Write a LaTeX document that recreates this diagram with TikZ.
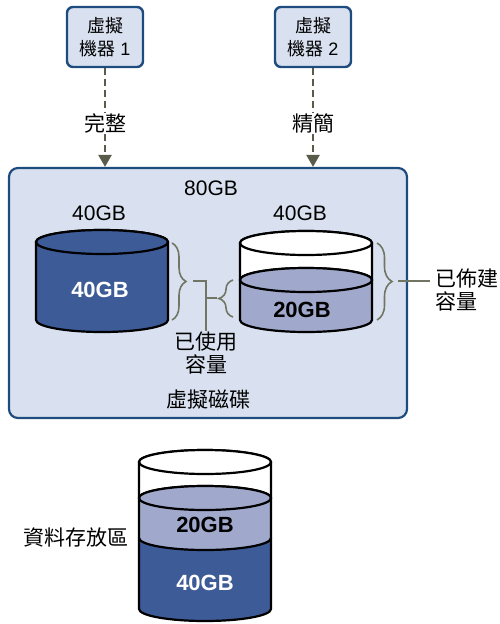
\documentclass[tikz,border=0pt]{standalone}
\usepackage{fontspec}
\setmainfont{Liberation Sans}
\newfontfamily\cjk{Noto Sans CJK TC}
\usetikzlibrary{arrows.meta,positioning,decorations.pathreplacing}
\definecolor{navycolor}{RGB}{31,76,126}
\definecolor{boxcolor}{RGB}{217,225,240}
\definecolor{darkcolor}{RGB}{61,91,151}
\definecolor{lightcolor}{RGB}{160,169,204}
\definecolor{linkcolor}{RGB}{88,92,72}
\tikzset{
  vmbox/.style={draw=navycolor, fill=boxcolor, line width=2.4pt, rounded corners=6pt,
    minimum width=76pt, minimum height=60pt, align=center, font=\fontsize{18}{23}\selectfont},
  diskbox/.style={draw=navycolor, fill=boxcolor, line width=2.2pt, rounded corners=9pt,
    minimum width=398pt, minimum height=250pt},
  flowln/.style={-{Triangle[length=12pt,width=13pt]}, line width=2.4pt,
    dash pattern=on 7pt off 4pt, linkcolor},
  braceln/.style={line width=1.6pt, linkcolor!85},
  cylln/.style={line width=2.2pt, black},
  txt/.style={font=\fontsize{21}{23}\selectfont, inner sep=1pt},
  gbtxt/.style={font=\bfseries\fontsize{22}{24}\selectfont, inner sep=1pt},
}
\newcommand{\zh}[1]{{\cjk #1}}
\newcommand{\cylseg}[4]{% fill, centre x, top y, bottom y
  \filldraw[cylln, fill=#1] (#2-66,#3) -- (#2-66,#4)
    arc[start angle=180, end angle=360, x radius=66, y radius=12]
    -- (#2+66,#3) arc[start angle=0, end angle=180, x radius=66, y radius=12] -- cycle;
}
\newcommand{\cyltop}[3]{% fill, centre x, y
  \filldraw[cylln, fill=#1] (#2,#3) ellipse[x radius=66, y radius=12];
}

\begin{document}
\begin{tikzpicture}[x=1pt, y=1pt]
  \useasboundingbox (0,0) rectangle (499,-624);
  \node[vmbox] (vm1) at (105,-37) {\zh{虛擬}\\\zh{機器} 1};
  \node[vmbox] (vm2) at (313,-37) {\zh{虛擬}\\\zh{機器} 2};
  \node[diskbox] (vdisk) at (208,-293) {};
  \draw[flowln] (vm1) -- (vm1 |- vdisk.north)
    node[txt, text=black, fill=white, pos=0.56] (thicklbl) {\zh{完整}};
  \draw[flowln] (vm2) -- (vm2 |- vdisk.north)
    node[txt, text=black, fill=white, pos=0.56] (thinlbl) {\zh{精簡}};
  \node[txt] (cap) at (211,-188) {80GB};
  \node[txt] (capa) at (99,-213) {40GB};
  \node[txt] (capb) at (300,-213) {40GB};
  % thick disk
  \cylseg{darkcolor}{102}{-242}{-320}
  \cyltop{darkcolor}{102}{-242}
  \node[gbtxt, text=white] (fulla) at (100,-290) {40GB};
  % thin disk
  \cylseg{white}{306}{-243}{-280}
  \cyltop{white}{306}{-243}
  \cylseg{lightcolor}{306}{-280}{-320}
  \cyltop{lightcolor}{306}{-280}
  \node[gbtxt] (usedb) at (302,-310) {20GB};
  % braces
  \draw[braceln, decorate, decoration={brace, amplitude=14pt}] (172,-243) -- (172,-320);
  \draw[braceln, decorate, decoration={brace, amplitude=14pt}] (233,-317) -- (233,-280);
  \draw[braceln, decorate, decoration={brace, amplitude=15pt}] (377,-243) -- (377,-320);
  \coordinate (ltip) at (193,-281);
  \coordinate (mtip) at (217,-298);
  \coordinate (rtip) at (398,-281);
  \node[txt, align=center, anchor=north] (usedlbl) at (206,-331) {\zh{已使用}\\\zh{容量}};
  \node[txt, align=left, anchor=west] (provlbl) at (434,-290) {\zh{已佈建}\\\zh{容量}};
  \draw[braceln] (ltip) -| (usedlbl.north);
  \draw[braceln] (mtip) -- (mtip -| usedlbl.north);
  \draw[braceln] (rtip) -- ([xshift=-4pt]rtip -| provlbl.west);
  \node[txt] (vdlbl) at (208,-400) {\zh{虛擬磁碟}};
  % datastore
  \cylseg{white}{205}{-462}{-498}
  \cyltop{white}{205}{-462}
  \cylseg{darkcolor}{205}{-538}{-609}
  \cylseg{lightcolor}{205}{-498}{-538}
  \cyltop{lightcolor}{205}{-498}
  \node[gbtxt] (dsthin) at (205,-525) {20GB};
  \node[gbtxt, text=white] (dsthick) at (205,-583) {40GB};
  \node[txt] (dslbl) at (76,-538) {\zh{資料存放區}};
\end{tikzpicture}
\end{document}
